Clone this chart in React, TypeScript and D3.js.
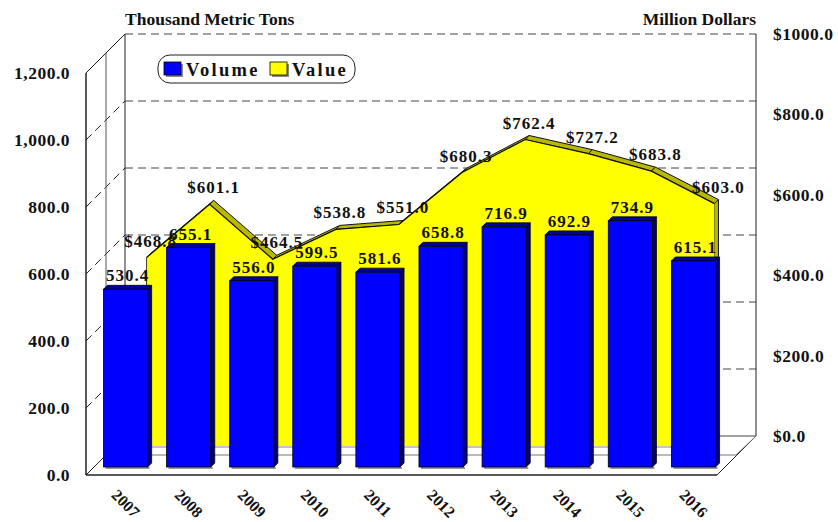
import React from "react";
import * as d3 from "d3";

const years = ["2007", "2008", "2009", "2010", "2011", "2012", "2013", "2014", "2015", "2016"];
const volume = [530.4, 655.1, 556.0, 599.5, 581.6, 658.8, 716.9, 692.9, 734.9, 615.1];
const valueM = [468.8, 601.1, 464.5, 538.8, 551.0, 680.3, 762.4, 727.2, 683.8, 603.0];
const leftTicks = [0, 200, 400, 600, 800, 1000, 1200];
const rightTicks = [0, 200, 400, 600, 800, 1000];

const W = 838;
const H = 522;
const FONT = "'Liberation Serif', 'Times New Roman', serif";

export default function App() {
  const xL = 86;
  const xR = 717;
  const yFloor = 475;
  const depth = 39;
  const barD0 = 8;
  const barD1 = 12;
  const areaD0 = 29;
  const areaD1 = 33;
  const divD = 20;

  const x = d3.scaleBand<string>().domain(years).range([xL, xR]).paddingInner(0.3).paddingOuter(0.15);
  const bw = x.bandwidth();
  const cx = (y: string) => (x(y) as number) + bw / 2;

  const yLeft = d3.scaleLinear().domain([0, 1200]).range([yFloor, yFloor - 402]);
  const yRight = d3.scaleLinear().domain([0, 1000]).range([yFloor, yFloor - 402]);

  const P = (px: number, py: number, d: number) => [px + d, py - d] as [number, number];
  const poly = (pts: [number, number][]) => pts.map((p) => p.join(",")).join(" ");

  const backX0 = xL + depth;
  const backX1 = xR + depth;
  const backY0 = yFloor - depth;

  const topPt = (i: number, d: number) => P(cx(years[i]), yRight(valueM[i]), d);
  const n = years.length;
  const frontPts: [number, number][] = [];
  for (let i = 0; i < n; i++) frontPts.push(topPt(i, areaD0));
  frontPts.push(P(cx(years[n - 1]), yFloor, areaD0));
  frontPts.push(P(cx(years[0]), yFloor, areaD0));
  const topLine = d3.line()(Array.from({ length: n }, (_, i) => topPt(i, areaD0)));

  const dash = "8,5";

  return (
    <svg width={W} height={H} style={{ position: "absolute", left: 0, top: 0, background: "#fff" }} fontFamily={FONT} fontWeight="bold">
      <text x={125} y={25} fontSize={17.5} fill="#111">Thousand Metric Tons</text>
      <text x={756} y={25} fontSize={17.5} fill="#111" textAnchor="end">Million Dollars</text>

      {leftTicks.map((v) => (
        <line key={"bg" + v} x1={backX0} x2={backX1} y1={yLeft(v) - depth} y2={yLeft(v) - depth}
          stroke="#444" strokeWidth={1} strokeDasharray={v === 0 ? undefined : dash} />
      ))}
      {leftTicks.map((v) => (
        <line key={"lg" + v} x1={xL} y1={yLeft(v)} x2={xL + depth} y2={yLeft(v) - depth}
          stroke="#222" strokeWidth={1} strokeDasharray={v === 0 || v === 1200 ? undefined : dash} />
      ))}
      <line x1={backX0} x2={backX0} y1={yLeft(1200) - depth} y2={backY0} stroke="#222" />
      <line x1={backX1} x2={backX1} y1={yLeft(1200) - depth} y2={backY0} stroke="#222" />
      <line x1={xL} x2={xL} y1={yLeft(1200)} y2={yFloor} stroke="#222" strokeWidth={1.5} />
      <line x1={xL} x2={xR} y1={yFloor} y2={yFloor} stroke="#222" strokeWidth={1.5} />
      <line x1={xR} y1={yFloor} x2={xR + depth} y2={yFloor - depth} stroke="#222" />
      <line x1={xL + divD} x2={xL + divD} y1={yLeft(1200) - divD} y2={yFloor - divD} stroke="#555" />
      <line x1={xL + divD} x2={xR + divD} y1={yFloor - divD} y2={yFloor - divD} stroke="#777" />
      <line x1={xR + divD - 1} y1={yFloor - divD} x2={xR + depth} y2={yFloor - depth} stroke="#777" />

      {years.slice(0, n - 1).map((_, i) => (
        <polygon key={"strip" + i}
          points={poly([topPt(i, areaD0), topPt(i + 1, areaD0), topPt(i + 1, areaD1), topPt(i, areaD1)])}
          fill="#B8B800" stroke="#111" strokeWidth={1} strokeLinejoin="round" />
      ))}
      <polygon
        points={poly([topPt(n - 1, areaD0), topPt(n - 1, areaD1), P(cx(years[n - 1]), yFloor, areaD1), P(cx(years[n - 1]), yFloor, areaD0)])}
        fill="#B8B800" stroke="#111" strokeWidth={1} />
      <polygon points={poly(frontPts)} fill="#FFFF00" stroke="none" />
      <path d={topLine || ""} fill="none" stroke="#111" strokeWidth={1.2} />
      <line x1={cx(years[0]) + areaD0} x2={cx(years[0]) + areaD0} y1={yRight(valueM[0]) - areaD0} y2={yFloor - areaD0} stroke="#111" strokeWidth={0.8} />
      <line x1={cx(years[0]) + areaD0} x2={cx(years[n - 1]) + areaD0} y1={yFloor - areaD0 + 1} y2={yFloor - areaD0 + 1} stroke="#888" />

      {years.map((yr, i) => {
        const x0 = x(yr) as number;
        const x1 = x0 + bw;
        const yt = yLeft(volume[i]);
        const yb = yFloor;
        return (
          <g key={"bar" + yr}>
            <rect x={x0 + barD0 + 2} y={yb - barD0} width={bw} height={2} fill="#999" />
            <polygon points={poly([P(x1, yt, barD0), P(x1, yt, barD1), P(x1, yb, barD1), P(x1, yb, barD0)])}
              fill="#000080" stroke="#000" strokeWidth={0.8} />
            <polygon points={poly([P(x0, yt, barD0), P(x1, yt, barD0), P(x1, yt, barD1), P(x0, yt, barD1)])}
              fill="#0000A0" stroke="#000" strokeWidth={0.8} />
            <rect x={x0 + barD0} y={yt - barD0} width={bw} height={yb - yt} fill="#0000FF" stroke="#000" strokeWidth={0.8} />
          </g>
        );
      })}

      {leftTicks.map((v) => (
        <text key={"lt" + v} x={70} y={yLeft(v) + 6} fontSize={17.5} textAnchor="end" letterSpacing={0.5} fill="#111">
          {d3.format(",.1f")(v)}
        </text>
      ))}
      {rightTicks.map((v) => (
        <text key={"rt" + v} x={773} y={yRight(v) - depth + 6} fontSize={17.5} letterSpacing={0.5} fill="#111">
          {"$" + d3.format(".1f")(v)}
        </text>
      ))}

      {years.map((yr) => (
        <text key={"xl" + yr} x={0} y={0} fontSize={16} fill="#111"
          transform={`translate(${cx(yr) - 7},${496}) rotate(45)`}>
          {yr}
        </text>
      ))}

      {years.map((yr, i) => (
        <text key={"vl" + yr} x={cx(yr) + 10} y={yLeft(volume[i]) - barD0 - 8} fontSize={17} letterSpacing={1}
          textAnchor="middle" fill="#111">
          {d3.format(".1f")(volume[i])}
        </text>
      ))}
      {years.map((yr, i) => (
        <text key={"dl" + yr} x={cx(yr) + areaD1} y={yRight(valueM[i]) - areaD0 - 11} fontSize={17} letterSpacing={1}
          textAnchor="middle" fill="#111">
          {"$" + d3.format(".1f")(valueM[i])}
        </text>
      ))}

      <rect x={158} y={55} width={197} height={28} rx={12} ry={12} fill="#fff" stroke="#222" strokeWidth={1} />
      <rect x={166} y={64} width={17} height={13} fill="#888" />
      <rect x={164} y={62} width={17} height={13} fill="#0000FF" stroke="#000" strokeWidth={0.8} />
      <text x={186} y={76} fontSize={18.5} letterSpacing={2.3} fill="#111">Volume</text>
      <rect x={272} y={64} width={17} height={13} fill="#888" />
      <rect x={270} y={62} width={17} height={13} fill="#FFFF00" stroke="#000" strokeWidth={0.8} />
      <text x={292} y={76} fontSize={18.5} letterSpacing={2.3} fill="#111">Value</text>
    </svg>
  );
}
